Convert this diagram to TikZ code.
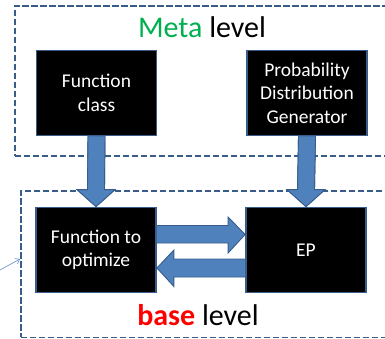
\documentclass[tikz,border=0pt]{standalone}
\usepackage{fontspec}
\setmainfont{Carlito}
\usetikzlibrary{calc,arrows.meta}
\definecolor{office}{HTML}{4F81BD}
\definecolor{officedark}{HTML}{385D8A}
\definecolor{metagreen}{HTML}{00B050}
\tikzset{
  block/.style={draw=officedark, line width=1.8pt, fill=black, text=white,
    minimum width=120pt, minimum height=85pt, inner sep=0pt, align=center,
    font=\fontsize{19.5}{23.5}\selectfont},
  frame/.style={draw=officedark, line width=1.5pt, dash pattern=on 6.5pt off 2.5pt,
    inner sep=0pt},
  fat/.style={fill=office, draw=officedark, line width=0.9pt, line join=miter},
  title/.style={font=\fontsize{30}{32}\selectfont, inner sep=0pt, anchor=base},
}
\begin{document}
\begin{tikzpicture}[x=1pt,y=-1pt]
\useasboundingbox (0,0) rectangle (385,338);
\clip (0,0) rectangle (385,338);
% dashed level frames
\node[frame, minimum width=400pt, minimum height=150pt, anchor=north west] (meta) at (14,5) {};
\node[frame, minimum width=400pt, minimum height=146.5pt, anchor=north west] (base) at (20,190) {};
\node[title] (metalabel) at (202,37) {\textcolor{metagreen}{M}\textcolor{metagreen}{eta} level};
\node[title] (baselabel) at (198,325) {\textcolor{red}{\bfseries base} level};
% blocks
\node[block] (fc)  at (96.5,93) {Function\\class};
\node[block] (pdg) at (307,93)  {Probability\\Distribution\\Generator};
\node[block] (fo)  at (96,250)  {Function to\\optimize};
\node[block] (ep)  at (306,250) {EP};
% downward block arrows from meta level to base level
\foreach \s/\t in {fc/fo, pdg/ep}{
  \fill[fat] ($(\s.south)+(-8.5,0)$) -- ($(\s.south)+(8.5,0)$)
    -- ($(\t.north)+(8.5,-17)$) -- ($(\t.north)+(19,-17)$) -- (\t.north)
    -- ($(\t.north)+(-19,-17)$) -- ($(\t.north)+(-8.5,-17)$) -- cycle;
  \draw[fat] ($(\s.south)+(-8.5,0)$)
    -- ($(\t.north)+(-8.5,-17)$) -- ($(\t.north)+(-19,-17)$) -- (\t.north)
    -- ($(\t.north)+(19,-17)$) -- ($(\t.north)+(8.5,-17)$) -- ($(\s.south)+(8.5,0)$);
}
% horizontal block arrows between the base blocks
\draw[fat] ($(fo.east)+(0,-24.5)$) -- ($(ep.west)+(-17,-24.5)$) -- ($(ep.west)+(-17,-33)$)
  -- ($(ep.west)+(0,-15.5)$) -- ($(ep.west)+(-17,3)$) -- ($(ep.west)+(-17,-7)$)
  -- ($(fo.east)+(0,-7)$);
\draw[fat] ($(ep.west)+(0,9)$) -- ($(fo.east)+(17,9)$) -- ($(fo.east)+(17,0)$)
  -- ($(fo.east)+(0,18)$) -- ($(fo.east)+(17,36.5)$) -- ($(fo.east)+(17,27)$)
  -- ($(ep.west)+(0,27)$);
% thin pointer into the base frame
\coordinate (tail) at (0,270);
\coordinate (hit) at ($(base.north west)+(0,69)$);
\draw[office!90!white, line width=0.6pt, -{Straight Barb[length=4pt,width=6pt]}] (tail) -- (hit);
\end{tikzpicture}
\end{document}
